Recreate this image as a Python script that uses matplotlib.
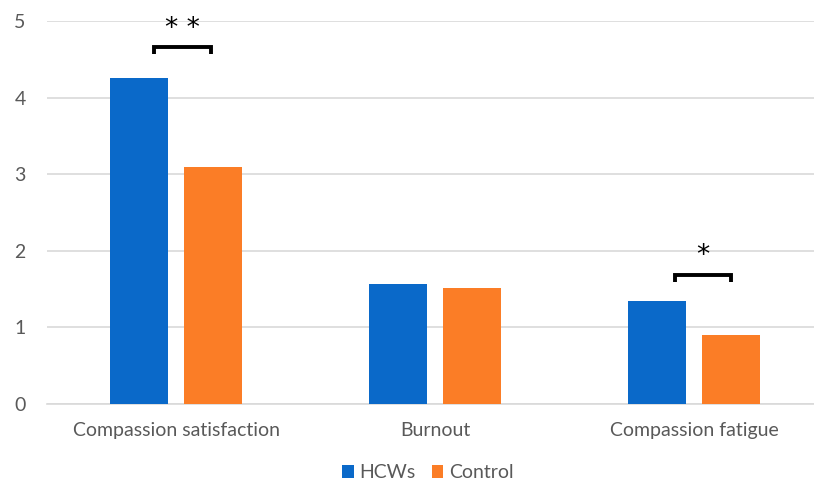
import matplotlib.pyplot as plt
import numpy as np

plt.rcParams['font.family'] = ['Lato', 'DejaVu Sans']

categories = ['Compassion satisfaction', 'Burnout', 'Compassion fatigue']
hcws = [4.26, 1.57, 1.34]
control = [3.09, 1.51, 0.905]

blue = '#0a69c9'
orange = '#fb7d26'
grid_col = '#d9d9d9'
text_col = '#595959'

fig = plt.figure(figsize=(8.14, 4.82), dpi=100)
ax = fig.add_axes([46.5 / 814, 1 - 404 / 482, 1 - 46.5 / 814, (404 - 21) / 482])

x = np.arange(len(categories))
w = 0.224
off = 0.143
ax.bar(x - off, hcws, w, color=blue, label='HCWs', zorder=3)
ax.bar(x + off, control, w, color=orange, label='Control', zorder=3)

ax.set_xlim(-0.5, 2.463)
ax.set_ylim(0, 5)
ax.set_yticks(range(6))
ax.yaxis.grid(True, color=grid_col, linewidth=1.2, zorder=0)
ax.set_axisbelow(True)
for s in ['top', 'right', 'left']:
    ax.spines[s].set_visible(False)
ax.spines['bottom'].set_color(grid_col)
ax.spines['bottom'].set_linewidth(1.2)
ax.tick_params(length=0, colors=text_col, labelsize=14)
ax.tick_params(axis='y', pad=15)
ax.tick_params(axis='x', pad=13)
ax.set_xticks(x)
ax.set_xticklabels(categories)


# significance brackets
def bracket(x0, x1, y, h, stars):
    ax.plot([x0, x0, x1, x1], [y - h, y, y, y - h], color='black', lw=2.8,
            solid_capstyle='butt', solid_joinstyle='miter', clip_on=False, zorder=4)
    ax.text((x0 + x1) / 2, y + 0.07, stars, ha='center', va='bottom',
            fontsize=19, color='black', family='DejaVu Sans')


bracket(-0.085, 0.135, 4.66, 0.09, '* *')
bracket(1.927, 2.143, 1.69, 0.10, '*')

ax.legend(loc='center', bbox_to_anchor=(0.497, -0.18), ncol=2,
          frameon=False, fontsize=14, handlelength=0.6, handleheight=0.6,
          handletextpad=0.3, columnspacing=0.8, labelcolor=text_col,
          borderpad=0, borderaxespad=0)

fig.savefig('out.png', dpi=100)
